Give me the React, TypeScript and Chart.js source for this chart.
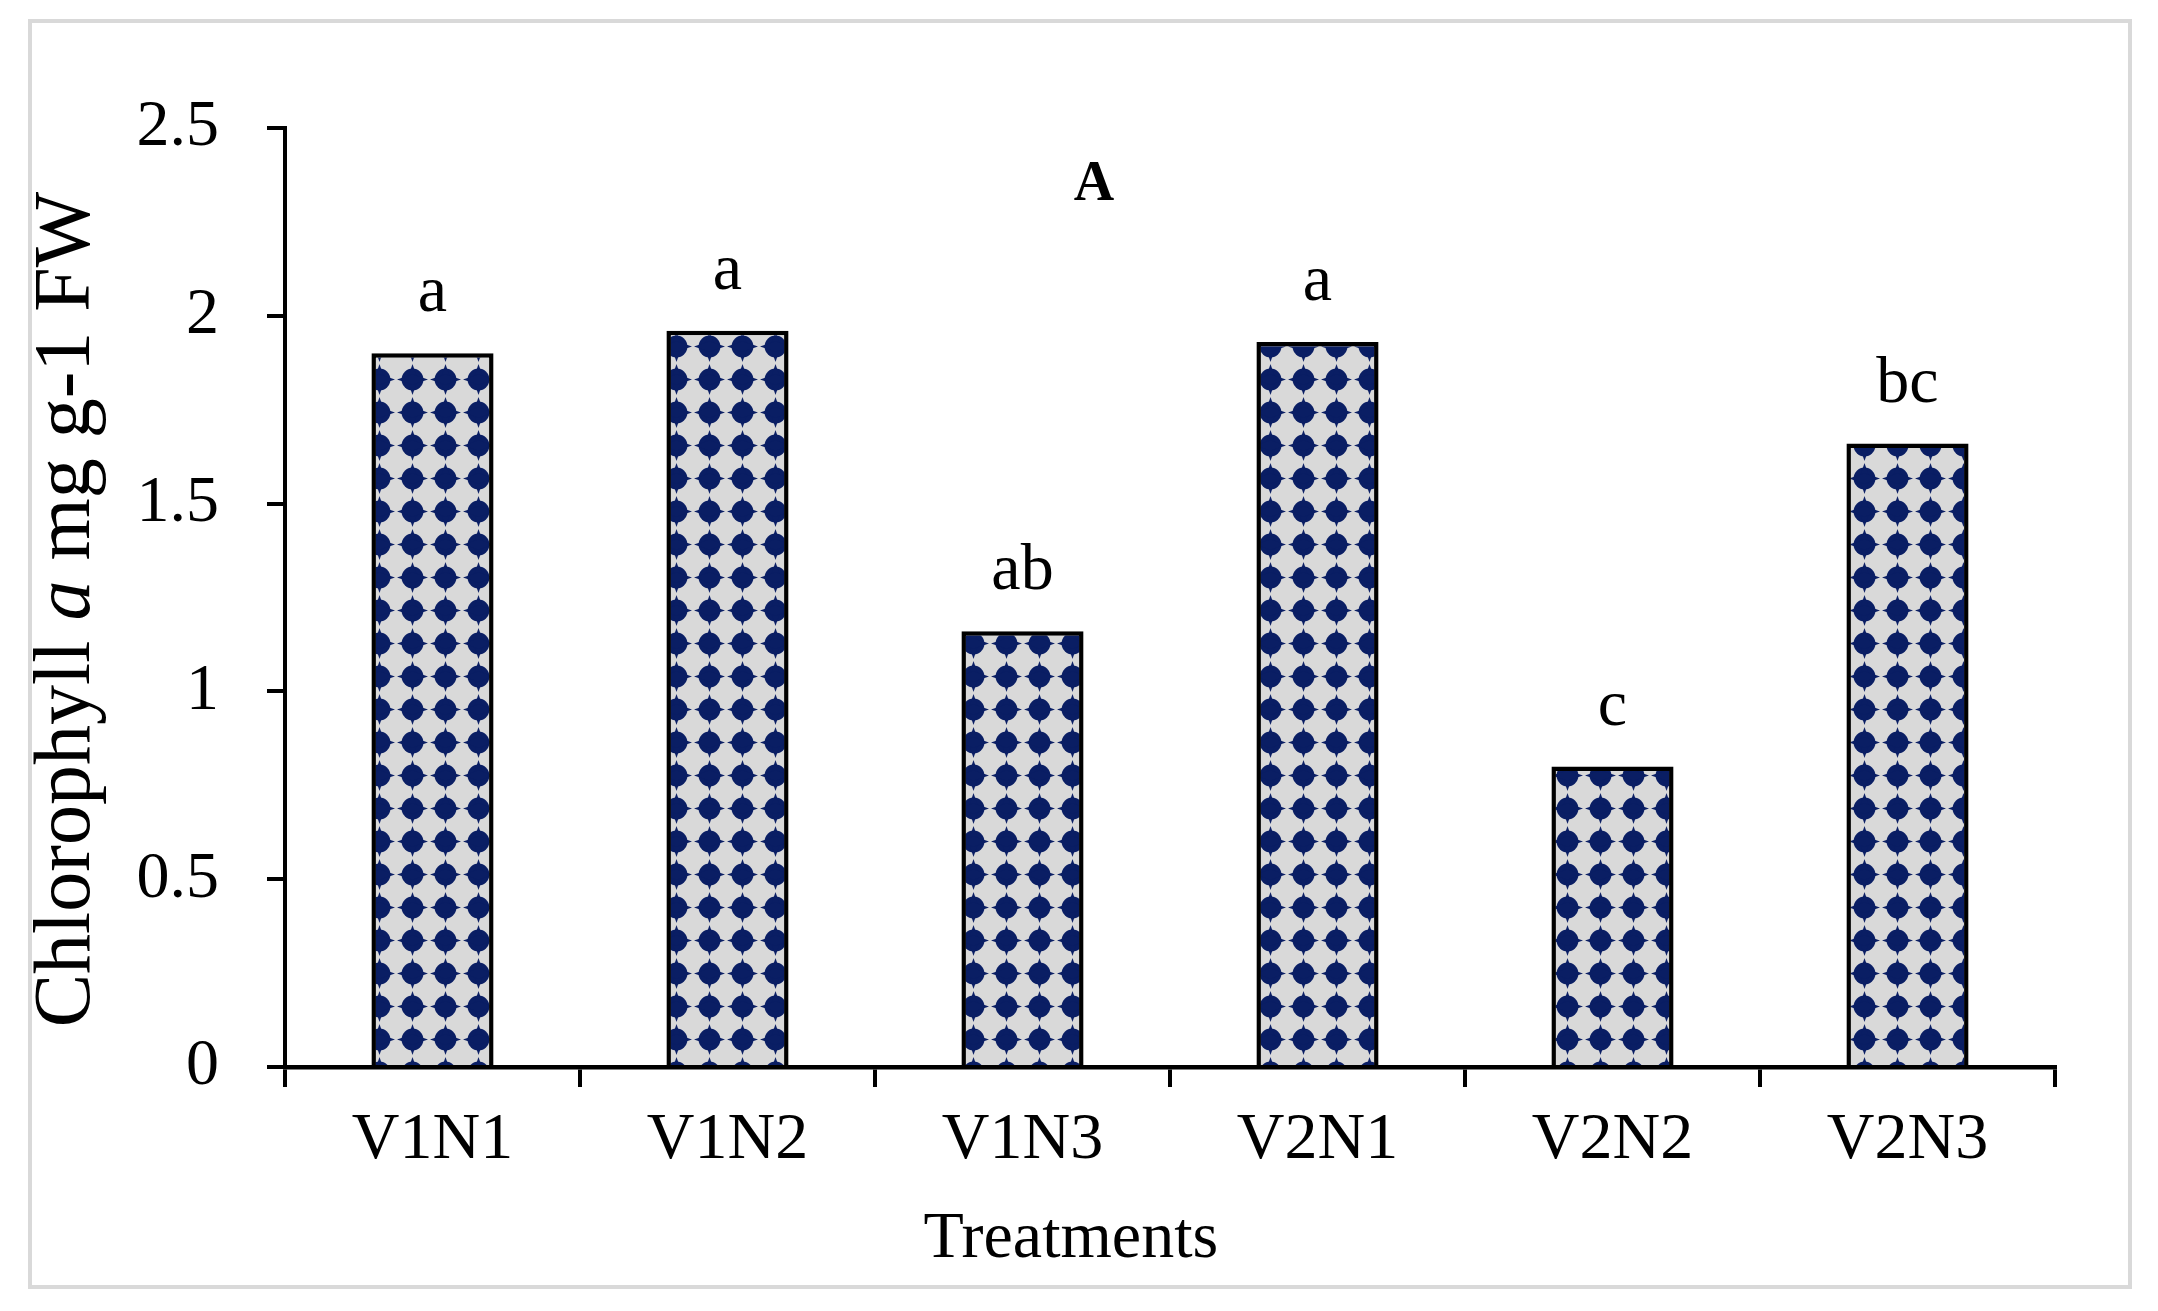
import React, { useEffect, useRef } from "react";
import { Chart, registerables } from "chart.js";

Chart.register(...registerables);

// ---- data ----
const categories = ["V1N1", "V1N2", "V1N3", "V2N1", "V2N2", "V2N3"];
const chlorophyllA = [1.9, 1.96, 1.16, 1.93, 0.8, 1.66];
const significanceLetters = ["a", "a", "ab", "a", "c", "bc"];
const yTickValues = [0, 0.5, 1, 1.5, 2, 2.5];
const panelLabel = "A";
const xAxisTitle = "Treatments";
const yAxisTitleParts = [
  { text: "Chlorophyll ", italic: false },
  { text: "a", italic: true },
  { text: " mg g-1 FW", italic: false },
];

const W = 2158;
const H = 1311;
const FONT = "'Liberation Serif', 'Times New Roman', serif";
const NAVY = "#0a1e64";
const GRAY = "#d9d9d9";

function makePattern(): CanvasPattern | string {
  const P = 33;
  const c = document.createElement("canvas");
  c.width = P;
  c.height = P;
  const g = c.getContext("2d");
  if (!g) return GRAY;
  g.fillStyle = GRAY;
  g.fillRect(0, 0, P, P);
  g.fillStyle = NAVY;
  const cx = P / 2;
  const cy = P / 2;
  g.beginPath();
  g.arc(cx, cy, P * 0.33, 0, Math.PI * 2);
  g.fill();
  const L = P * 0.47;
  const w = P * 0.16;
  g.beginPath();
  g.moveTo(cx, cy - L);
  g.lineTo(cx + w, cy);
  g.lineTo(cx, cy + L);
  g.lineTo(cx - w, cy);
  g.closePath();
  g.fill();
  g.beginPath();
  g.moveTo(cx - L, cy);
  g.lineTo(cx, cy - w);
  g.lineTo(cx + L, cy);
  g.lineTo(cx, cy + w);
  g.closePath();
  g.fill();
  const pat = g.createPattern(c, "repeat");
  return pat || GRAY;
}

const decorPlugin = {
  id: "decor",
  beforeDraw(chart: any) {
    const ctx = chart.ctx;
    ctx.save();
    ctx.fillStyle = "#ffffff";
    ctx.fillRect(0, 0, W, H);
    ctx.strokeStyle = "#d9d9d9";
    ctx.lineWidth = 4;
    ctx.strokeRect(30, 21, 2100, 1266);
    ctx.restore();
  },
  afterDraw(chart: any) {
    const ctx = chart.ctx;
    const area = chart.chartArea;
    const meta = chart.getDatasetMeta(0);
    ctx.save();
    ctx.fillStyle = "#000";
    // significance letters
    ctx.font = `66px ${FONT}`;
    ctx.textAlign = "center";
    ctx.textBaseline = "alphabetic";
    meta.data.forEach((bar: any, i: number) => {
      ctx.fillText(significanceLetters[i], bar.x, bar.y - 42);
    });
    // panel label
    ctx.font = `bold 56px ${FONT}`;
    ctx.fillText(panelLabel, area.left + (area.right - area.left) * 0.457, area.top + 72);
    // x axis title
    ctx.font = `66px ${FONT}`;
    ctx.fillText(xAxisTitle, area.left + (area.right - area.left) * 0.444, area.bottom + 190);
    // y axis title (rotated, mixed italic)
    ctx.translate(68, (area.top + area.bottom) / 2 + 12);
    ctx.rotate(-Math.PI / 2);
    ctx.textBaseline = "middle";
    ctx.textAlign = "left";
    const size = 80;
    let total = 0;
    const widths = yAxisTitleParts.map((p) => {
      ctx.font = `${p.italic ? "italic " : ""}${size}px ${FONT}`;
      const m = ctx.measureText(p.text).width;
      total += m;
      return m;
    });
    let x = -total / 2;
    yAxisTitleParts.forEach((p, i) => {
      ctx.font = `${p.italic ? "italic " : ""}${size}px ${FONT}`;
      ctx.fillText(p.text, x, 0);
      x += widths[i];
    });
    ctx.restore();
  },
};

export default function App() {
  const ref = useRef<HTMLCanvasElement | null>(null);
  useEffect(() => {
    if (!ref.current) return;
    const pattern = makePattern();
    const chart = new Chart(ref.current, {
      type: "bar",
      data: {
        labels: categories,
        datasets: [
          {
            data: chlorophyllA,
            backgroundColor: pattern as any,
            borderColor: "#000",
            borderWidth: 4.5,
            barPercentage: 0.414,
            categoryPercentage: 1,
          },
        ],
      },
      options: {
        animation: false,
        responsive: false,
        devicePixelRatio: 1,
        layout: { padding: { left: 0, top: 128, right: 103, bottom: 94 } },
        plugins: { legend: { display: false }, tooltip: { enabled: false }, title: { display: false } },
        scales: {
          x: {
            grid: {
              offset: true,
              drawOnChartArea: false,
              drawTicks: true,
              tickLength: 20,
              color: "#000",
              lineWidth: 4,
            },
            border: { display: true, color: "#000", width: 4.5 },
            ticks: { color: "#000", font: { family: FONT, size: 66 }, padding: 14 },
            afterFit: (s: any) => {
              s.height = 150;
            },
          },
          y: {
            min: yTickValues[0],
            max: yTickValues[yTickValues.length - 1],
            afterBuildTicks: (s: any) => {
              s.ticks = yTickValues.map((v) => ({ value: v }));
            },
            grid: {
              drawOnChartArea: false,
              drawTicks: true,
              tickLength: 18,
              color: "#000",
              lineWidth: 4,
            },
            border: { display: true, color: "#000", width: 4 },
            ticks: {
              color: "#000",
              font: { family: FONT, size: 66 },
              padding: 48,
              callback: (v: any) => String(v),
            },
            afterFit: (s: any) => {
              s.width = 285;
            },
          },
        },
      },
      plugins: [decorPlugin],
    });
    return () => chart.destroy();
  }, []);
  return (
    <div style={{ position: "absolute", left: 0, top: 0, width: W, height: H }}>
      <canvas ref={ref} width={W} height={H} style={{ width: W, height: H, display: "block" }} />
    </div>
  );
}
